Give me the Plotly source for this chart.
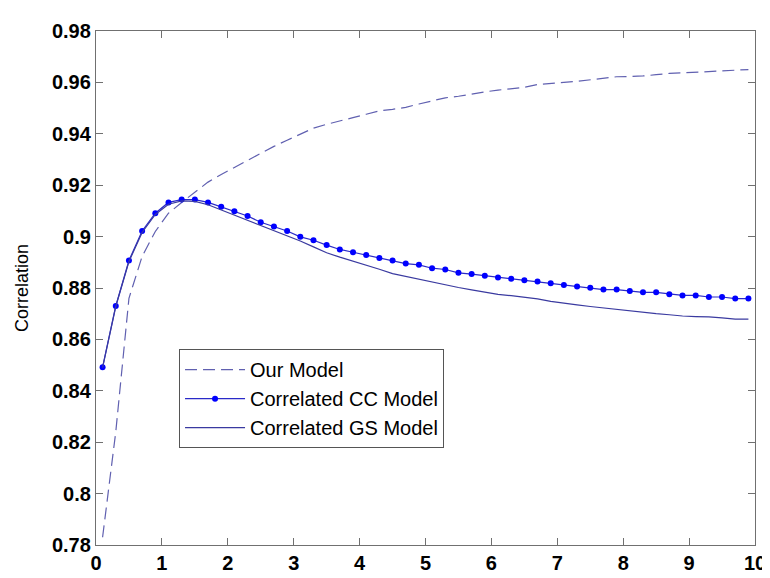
import plotly.graph_objects as go

x_vals = [0.1, 0.3, 0.5, 0.7, 0.9, 1.1, 1.3, 1.5, 1.7, 1.9,
          2.1, 2.3, 2.5, 2.7, 2.9, 3.1, 3.3, 3.5, 3.7, 3.9,
          4.1, 4.3, 4.5, 4.7, 4.9, 5.1, 5.3, 5.5, 5.7, 5.9,
          6.1, 6.3, 6.5, 6.7, 6.9, 7.1, 7.3, 7.5, 7.7, 7.9,
          8.1, 8.3, 8.5, 8.7, 8.9, 9.1, 9.3, 9.5, 9.7, 9.9]

our_model = [0.783, 0.824, 0.876, 0.8923, 0.9020, 0.9091, 0.9133, 0.9174, 0.9212, 0.9242,
             0.9269, 0.9298, 0.9326, 0.9351, 0.9375, 0.9399, 0.9422, 0.9437, 0.9451, 0.9463,
             0.9476, 0.9489, 0.9495, 0.9503, 0.9516, 0.9528, 0.9540, 0.9546, 0.9555, 0.9563,
             0.9570, 0.9576, 0.9581, 0.9592, 0.9597, 0.9600, 0.9604, 0.9610, 0.9616, 0.9622,
             0.9623, 0.9625, 0.9630, 0.9635, 0.9637, 0.9640, 0.9643, 0.9646, 0.9648, 0.9650]

cc_model = [0.8492, 0.8730, 0.8907, 0.9022, 0.9091, 0.9133, 0.9144, 0.9144, 0.9133, 0.9116,
            0.9099, 0.9080, 0.9056, 0.9039, 0.9022, 0.8999, 0.8986, 0.8967, 0.8950, 0.8939,
            0.8928, 0.8917, 0.8907, 0.8895, 0.8890, 0.8877, 0.8872, 0.8859, 0.8854, 0.8848,
            0.8841, 0.8836, 0.8830, 0.8825, 0.8818, 0.8812, 0.8806, 0.8801, 0.8794, 0.8794,
            0.8788, 0.8783, 0.8783, 0.8776, 0.8771, 0.8771, 0.8765, 0.8765, 0.8759, 0.8759]

gs_model = [0.8490, 0.8728, 0.8903, 0.9016, 0.9086, 0.9126, 0.9139, 0.9137, 0.9124, 0.9104,
            0.9085, 0.9065, 0.9045, 0.9022, 0.9002, 0.8983, 0.8960, 0.8937, 0.8920, 0.8905,
            0.8888, 0.8873, 0.8856, 0.8845, 0.8833, 0.8823, 0.8813, 0.8802, 0.8793, 0.8783,
            0.8775, 0.8770, 0.8765, 0.8758, 0.8748, 0.8740, 0.8734, 0.8728, 0.8722, 0.8716,
            0.8710, 0.8705, 0.8700, 0.8696, 0.8691, 0.8689, 0.8688, 0.8684, 0.8679, 0.8679]

x_ticks = [0, 1, 2, 3, 4, 5, 6, 7, 8, 9, 10]
y_ticks = [0.78, 0.80, 0.82, 0.84, 0.86, 0.88, 0.90, 0.92, 0.94, 0.96, 0.98]
y_tick_text = ["0.78", "0.8", "0.82", "0.84", "0.86", "0.88", "0.9", "0.92", "0.94", "0.96", "0.98"]

fig = go.Figure()
fig.add_trace(go.Scatter(x=x_vals, y=our_model, mode="lines", name="Our Model",
                         line=dict(color="#6060b0", width=1.2, dash="12px,6px")))
fig.add_trace(go.Scatter(x=x_vals, y=cc_model, mode="lines+markers", name="Correlated CC Model",
                         line=dict(color="#2a2ac8", width=1.2),
                         marker=dict(color="#0000ff", size=6, symbol="circle")))
fig.add_trace(go.Scatter(x=x_vals, y=gs_model, mode="lines", name="Correlated GS Model",
                         line=dict(color="#3a3aa0", width=1.2)))

axis_common = dict(showline=True, linecolor="#707070", linewidth=1.3, mirror="ticks",
                   ticks="inside", ticklen=7, tickcolor="#707070", showgrid=False, zeroline=False,
                   tickfont=dict(family="Arial, Liberation Sans, sans-serif", size=20,
                                 color="black", weight="bold"))

fig.update_xaxes(range=[0, 10], tickvals=x_ticks, **axis_common)
fig.update_yaxes(range=[0.78, 0.98], tickvals=y_ticks, ticktext=y_tick_text,
                 title=dict(text="Correlation", standoff=18,
                            font=dict(family="Arial, Liberation Sans, sans-serif", size=18, color="black")),
                 **axis_common)

fig.update_layout(
    width=770, height=578,
    margin=dict(l=88, r=13, t=20, b=33),
    paper_bgcolor="white", plot_bgcolor="white",
    showlegend=True,
    legend=dict(x=0.126, y=0.381, xanchor="left", yanchor="top",
                bgcolor="white", bordercolor="#555555", borderwidth=1,
                font=dict(family="Arial, Liberation Sans, sans-serif", size=20, color="black"),
                itemwidth=60, tracegroupgap=0),
)

fig.write_html("out.html")
